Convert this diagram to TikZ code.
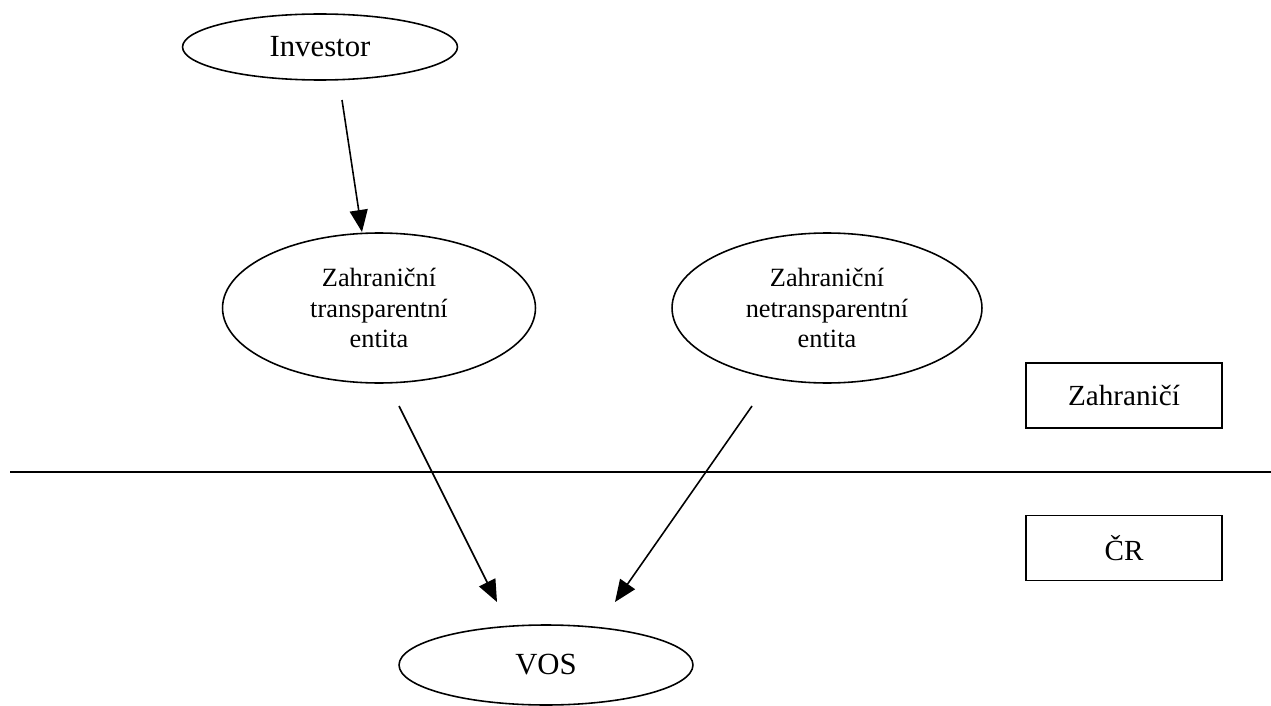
\documentclass[tikz,border=0pt]{standalone}
\usepackage{fontspec}
\setmainfont{Liberation Serif}
\usepackage{tikz}
\usetikzlibrary{arrows.meta,positioning,shapes.geometric}

\begin{document}
\begin{tikzpicture}[
  x=0.02cm,y=-0.02cm,
  entity/.style={draw,ellipse,line width=0.9pt,inner sep=0pt,align=center,
    font=\fontsize{15}{17.5}\selectfont},
  bigentity/.style={entity,font=\fontsize{17.5}{20}\selectfont},
  region/.style={draw,rectangle,line width=0.9pt,minimum width=3.92cm,
    minimum height=1.3cm,font=\fontsize{16.6}{19}\selectfont},
  arr/.style={-{Triangle[length=4.4mm,width=3.6mm]},line width=0.9pt}
]
\useasboundingbox (0,0) rectangle (1271,706);
\node[bigentity,minimum width=5.5cm,minimum height=1.32cm] (inv) at (320,47) {Investor};
\node[entity,minimum width=6.26cm,minimum height=3cm] (zte) at (379,308)
  {Zahraniční\\transparentní\\entita};
\node[entity,minimum width=6.2cm,minimum height=3cm] (zne) at (827,308)
  {Zahraniční\\netransparentní\\entita};
\node[bigentity,minimum width=5.88cm,minimum height=1.6cm] (vos) at (546,665) {VOS};
\node[region] (zahr) at (1124,395.5) {Zahraničí};
\node[region] (cr) at (1124,548) {ČR};
% hranice
\coordinate (hl) at (10,472);
\coordinate (hr) at (1271,472);
\draw[line width=0.9pt] (hl) -- (hr);
% sipky
\coordinate (inv-out) at (342,100);
\coordinate (zte-in) at (362,232);
\coordinate (zte-out) at (399,406);
\coordinate (zne-out) at (752,406);
\coordinate (vos-inl) at (497,602);
\coordinate (vos-inr) at (615,602);
\draw[arr] (inv-out) -- (zte-in);
\draw[arr] (zte-out) -- (vos-inl);
\draw[arr] (zne-out) -- (vos-inr);
\end{tikzpicture}
\end{document}
